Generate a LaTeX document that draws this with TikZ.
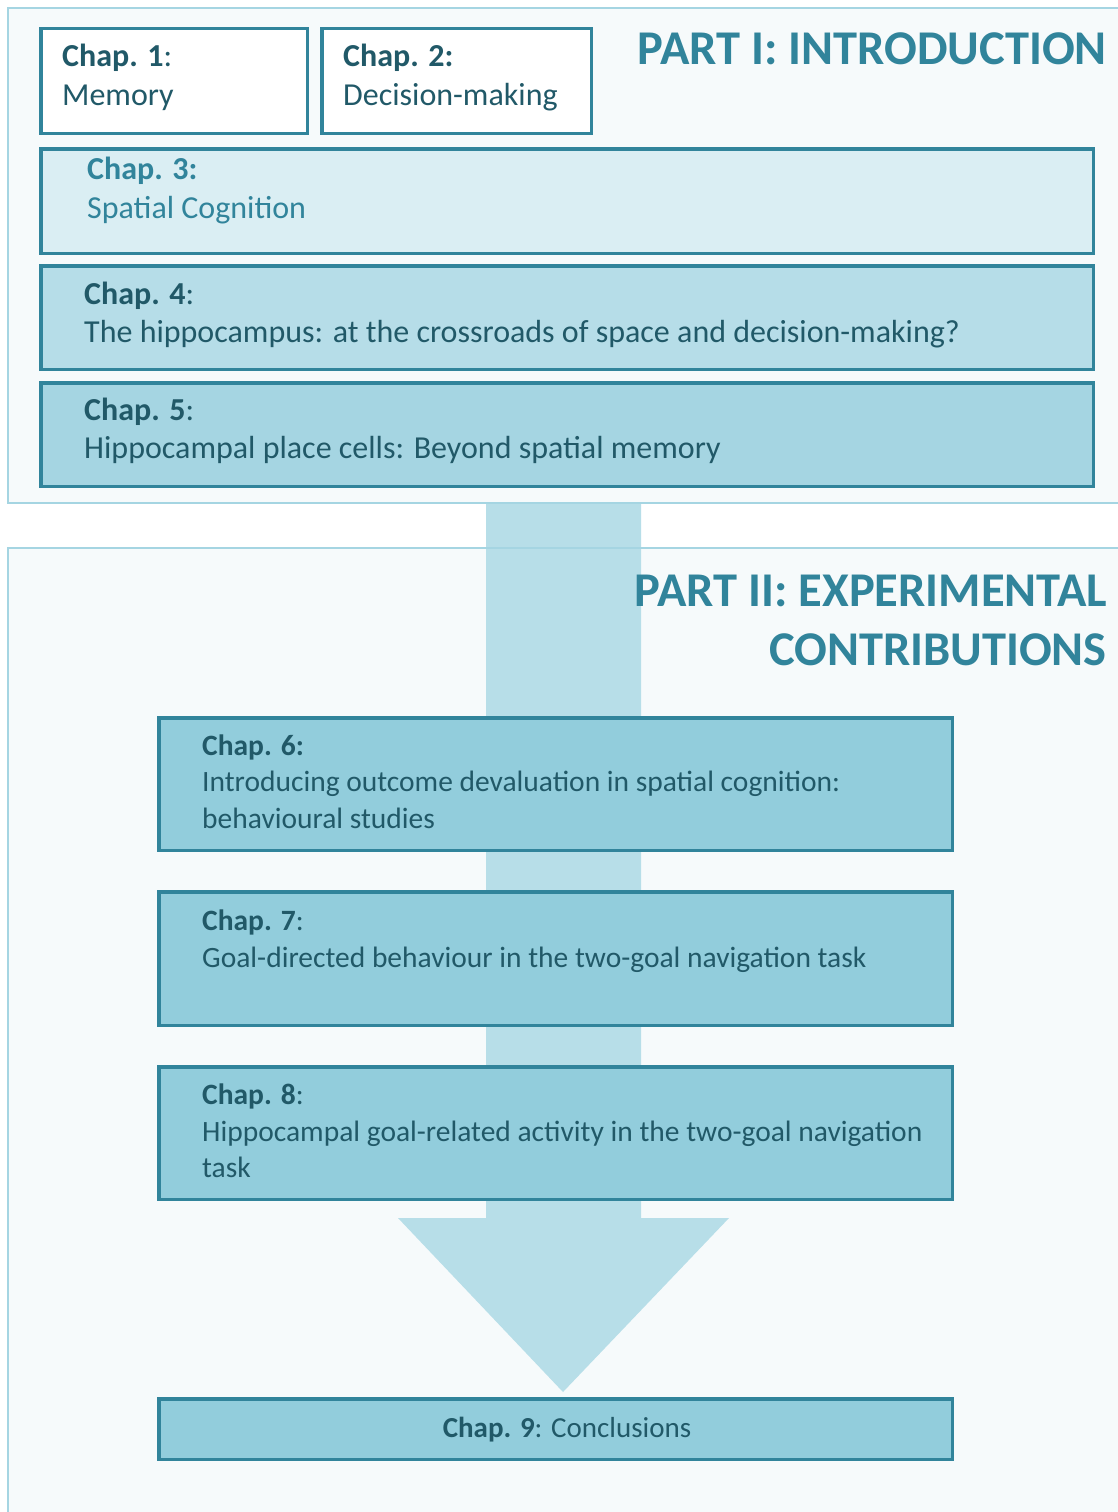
\documentclass[tikz,border=0pt]{standalone}
\usepackage{fontspec}
\setmainfont{Carlito}
\usetikzlibrary{positioning}

\definecolor{chapline}{HTML}{31849B}
\definecolor{darktxt}{HTML}{215968}
\definecolor{parttxt}{HTML}{31849B}
\definecolor{partline}{HTML}{A5D5E2}
\definecolor{partfill}{HTML}{F6FAFB}
\definecolor{arrowfill}{HTML}{B7DEE8}
\definecolor{fillthree}{HTML}{DAEEF3}
\definecolor{fillfour}{HTML}{B6DDE8}
\definecolor{fillfive}{HTML}{A5D5E2}
\definecolor{fillexp}{HTML}{92CDDC}

% chaptext nodes sit on the baseline of their last line
\tikzset{
  chapbox/.style={draw=chapline, line width=3.5pt, inner sep=0pt, anchor=north west},
  chaptext/.style={anchor=base west, inner sep=0pt, align=left, text=darktxt,
    font=\fontsize{32}{38.5}\selectfont},
  exptext/.style={chaptext, font=\fontsize{29.5}{36.5}\selectfont},
  parttitle/.style={anchor=base east, inner sep=0pt, text=parttxt,
    font=\fontsize{48.5}{59}\selectfont\bfseries},
}

\begin{document}
\begin{tikzpicture}[x=1pt, y=-1pt]
\useasboundingbox (0,0) rectangle (1117,1512);

% the two parts
\fill[white] (0,0) rectangle (1117,1512);
\fill[partfill] (8,8) rectangle (1130,503);
\fill[partfill] (8,548) rectangle (1130,1530);
\fill[arrowfill] (486,503) -- (641,503) -- (641,1218) -- (729,1218) -- (563,1392)
    -- (398,1218) -- (486,1218) -- cycle;
\draw[partline, line width=2pt] (8,8) rectangle (1130,503);
\draw[partline, line width=2pt] (8,548) rectangle (1130,1530);

\node[parttitle] (p1) at (1107,64) {PART I: INTRODUCTION};
\node[parttitle] (p2) at (1107,606) {PART II: EXPERIMENTAL};
\node[parttitle] (p2b) at (1107,665) {CONTRIBUTIONS};

% part I
\node[chapbox, fill=white, minimum width=266.5, minimum height=104.5] (c1) at (39,27) {};
\node[chaptext] (c1t) at (62,105) {\textbf{Chap. 1}:\\Memory};
\node[chapbox, fill=white, minimum width=269.5, minimum height=104.5] (c2) at (320,27) {};
\node[chaptext] (c2t) at (343,105) {\textbf{Chap. 2:}\\Decision-making};
\node[chapbox, fill=fillthree, minimum width=1052.5, minimum height=104.5] (c3) at (39,147) {};
\node[chaptext, text=parttxt] (c3t) at (87,218) {\textbf{Chap. 3:}\\Spatial Cognition};
\node[chapbox, fill=fillfour, minimum width=1052.5, minimum height=103.5] (c4) at (39,264) {};
\node[chaptext] (c4t) at (84,342.5) {\textbf{Chap. 4}:\\The hippocampus: at the crossroads of space and decision-making?};
\node[chapbox, fill=fillfive, minimum width=1052.5, minimum height=103.5] (c5) at (39,381) {};
\node[chaptext] (c5t) at (84,458.5) {\textbf{Chap. 5}:\\Hippocampal place cells: Beyond spatial memory};

% part II
\node[chapbox, fill=fillexp, minimum width=793.5, minimum height=132.5] (c6) at (157,716) {};
\node[exptext] (c6t) at (202,828)
  {\textbf{Chap. 6:}\\Introducing outcome devaluation in spatial cognition:\\behavioural studies};
\node[chapbox, fill=fillexp, minimum width=793.5, minimum height=133.5] (c7) at (157,890) {};
\node[exptext] (c7t) at (202,967)
  {\textbf{Chap. 7}:\\Goal-directed behaviour in the two-goal navigation task};
\node[chapbox, fill=fillexp, minimum width=793.5, minimum height=132.5] (c8) at (157,1065) {};
\node[exptext] (c8t) at (202,1177.5)
  {\textbf{Chap. 8}:\\Hippocampal goal-related activity in the two-goal navigation\\task};
\node[chapbox, fill=fillexp, minimum width=793.5, minimum height=60.5] (c9) at (157,1397) {};
\node[exptext, anchor=base, font=\fontsize{29}{36}\selectfont] (c9t) at (567,1437) {\textbf{Chap. 9}: Conclusions};

\end{tikzpicture}
\end{document}
